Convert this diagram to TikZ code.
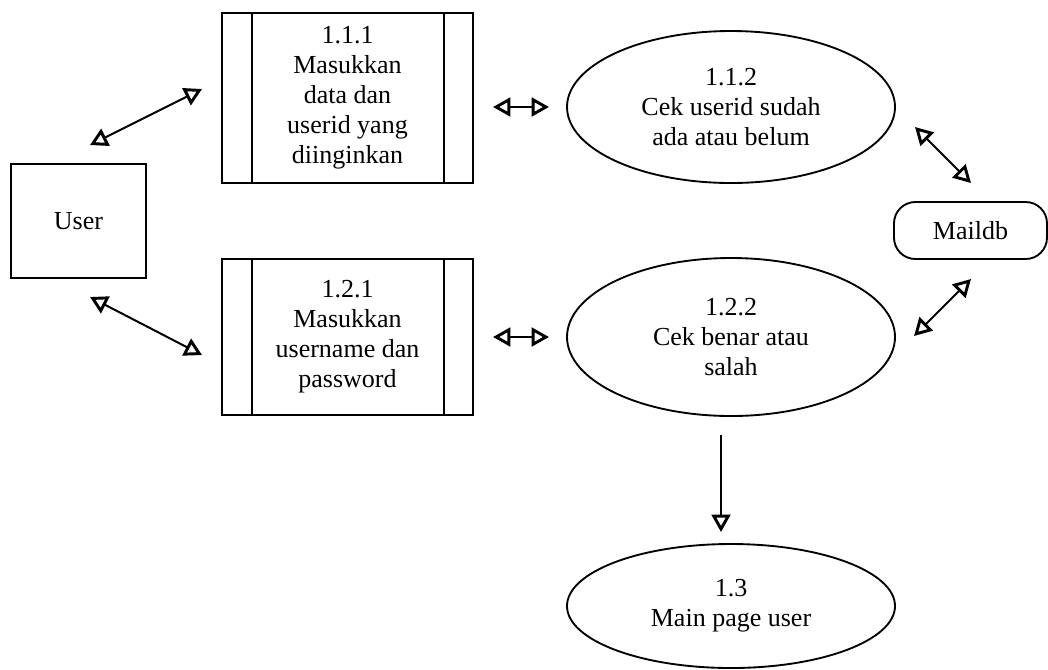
\documentclass[tikz,border=0pt]{standalone}
\usepackage{fontspec}
\setmainfont{Liberation Serif}
\usetikzlibrary{arrows.meta,shapes.geometric,calc}
\begin{document}
\begin{tikzpicture}[x=0.75pt,y=-0.75pt,
  txt/.style={font=\fontsize{19.5}{22.5}\selectfont,align=center,inner sep=0pt},
  extbox/.style={txt,draw,line width=1.4pt,minimum width=135*0.75pt,minimum height=114*0.75pt},
  procbox/.style={txt,draw,line width=1.4pt,minimum width=251*0.75pt},
  proc/.style={txt,draw,ellipse,line width=1.4pt,minimum width=328*0.75pt},
  store/.style={txt,draw,rounded corners=16pt,line width=1.4pt,minimum width=153*0.75pt,minimum height=57*0.75pt},
  flow/.style={line width=1.5pt,{Triangle[open,length=13pt,width=14pt,line width=2.2pt]}-{Triangle[open,length=13pt,width=14pt,line width=2.2pt]}},
  oneway/.style={line width=1.5pt,-{Triangle[open,length=13pt,width=14pt,line width=2.2pt]}}
]
\useasboundingbox (0,0) rectangle (1048,669);

% nodes
\node[extbox] (user) at (78.5,221) {User};
\node[procbox,minimum height=170*0.75pt] (p111) at (347.5,98) {1.1.1\\Masukkan\\data dan\\userid yang\\diinginkan};
\node[procbox,minimum height=156*0.75pt] (p121) at (347.5,337) {1.2.1\\Masukkan\\username dan\\password};
\node[proc,minimum height=152*0.75pt] (e112) at (731,107) {1.1.2\\Cek userid sudah\\ada atau belum};
\node[proc,minimum height=158*0.75pt] (e122) at (731,337) {1.2.2\\Cek benar atau\\salah};
\node[proc,minimum height=124*0.75pt] (e13) at (731,606) {1.3\\Main page user};
\node[store] (maildb) at (970.5,230.5) {Maildb};

% inner side bars of process boxes
\foreach \n in {p111,p121}{
  \draw[line width=1.4pt] ($(\n.north west)+(31,0)$) -- ($(\n.south west)+(31,0)$);
  \draw[line width=1.4pt] ($(\n.north east)+(-30,0)$) -- ($(\n.south east)+(-30,0)$);
}

% connector end points
\coordinate (u1a) at (90,145);
\coordinate (u1b) at (202,89);
\coordinate (u2a) at (90,297);
\coordinate (u2b) at (202,355);
\coordinate (h1a) at (493,107);
\coordinate (h1b) at (549,107);
\coordinate (h2a) at (493,337);
\coordinate (h2b) at (549,337);
\coordinate (m1a) at (915,127);
\coordinate (m1b) at (971,183);
\coordinate (m2a) at (914,336);
\coordinate (m2b) at (971,279);
\coordinate (d1) at (721,435);
\coordinate (d2) at (721,532);

% connectors
\draw[flow] (u1a) -- (u1b);
\draw[flow] (u2a) -- (u2b);
\draw[flow] (h1a) -- (h1b);
\draw[flow] (h2a) -- (h2b);
\draw[flow] (m1a) -- (m1b);
\draw[flow] (m2a) -- (m2b);
\draw[oneway] (d1) -- (d2);
\end{tikzpicture}
\end{document}
